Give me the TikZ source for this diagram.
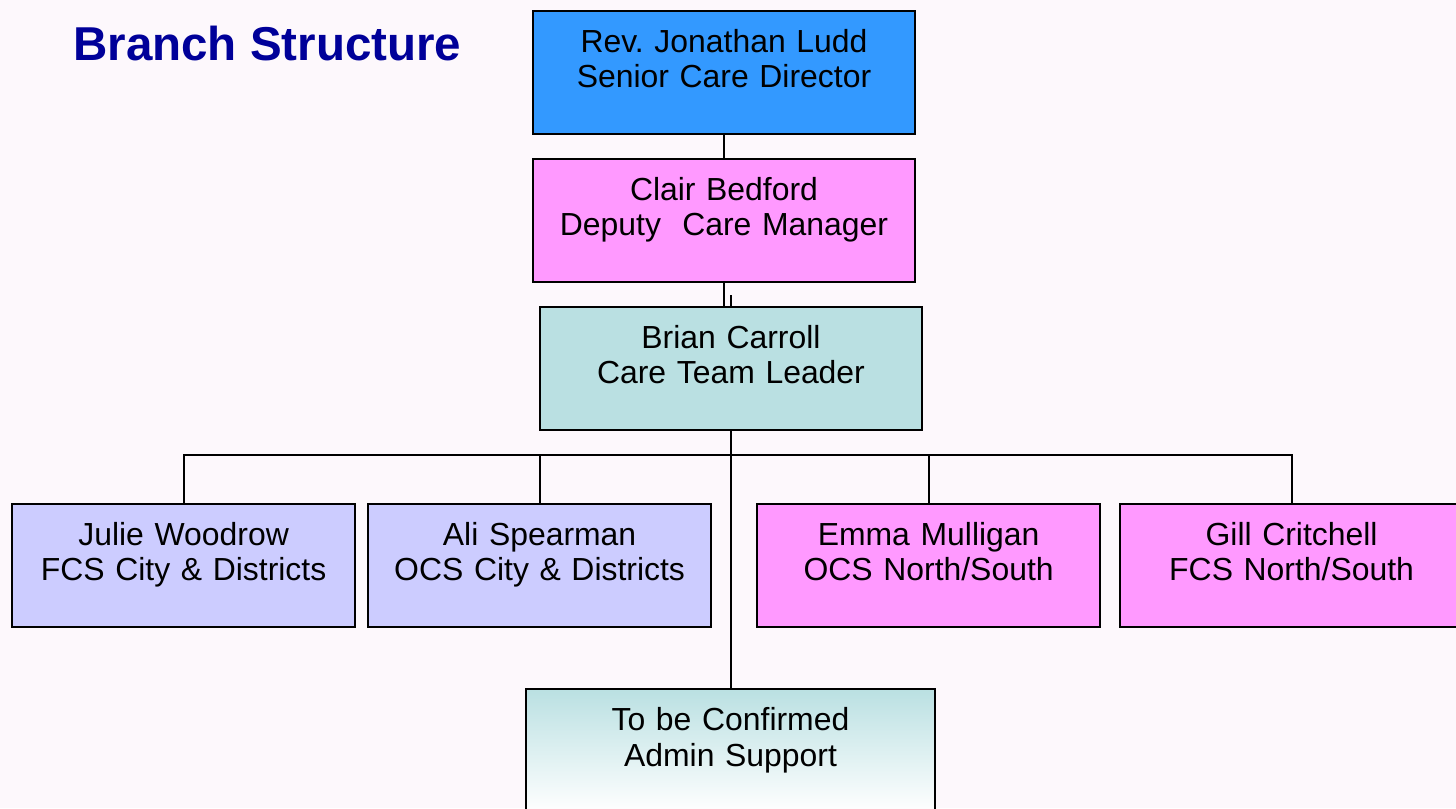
\documentclass[tikz,border=0pt]{standalone}
\usepackage{fontspec}
\setmainfont{Liberation Sans}
\usepackage{tikz}
\usetikzlibrary{positioning}
\usepackage{xcolor}
\definecolor{bgpink}{RGB}{253, 248, 252}
\definecolor{directorblue}{RGB}{51, 153, 255}
\definecolor{managerpink}{RGB}{255, 153, 255}
\definecolor{leaderteal}{RGB}{186, 224, 226}
\definecolor{cityblue}{RGB}{204, 204, 255}
\definecolor{titleblue}{RGB}{0, 0, 153}
\frenchspacing

\tikzset{
    postbox/.style={draw=black, line width=1.4pt, inner sep=0pt, outer sep=0pt, align=center,
        font=\fontsize{22.7pt}{25.6pt}\selectfont,
        text height=1.025cm, text depth=2.05cm},
    widebox/.style={postbox, text width=9.55cm},
    teambox/.style={postbox, text width=8.575cm},
    link/.style={line width=1.4pt}
}

\begin{document}
\begin{tikzpicture}[scale=1]
    \useasboundingbox (0,0) rectangle (36.4,-20.2);
    \fill[bgpink] (0,0) rectangle (36.4,-20.2);
    \node[anchor=base west, inner sep=0pt, text=titleblue,
        font=\fontsize{33.8pt}{40pt}\selectfont\bfseries] (title) at (1.825,-1.5) {Branch Structure};
    % top of the branch
    \node[widebox, fill=directorblue, anchor=north] (ludd) at (18.1,-0.275) {Rev. Jonathan Ludd\\Senior Care Director};
    \node[widebox, fill=managerpink, below=0.625cm of ludd] (clair) {Clair Bedford\\Deputy~ Care Manager};
    \node[widebox, fill=leaderteal, anchor=north] (brian) at (18.275,-7.675) {Brian Carroll\\Care Team Leader};
    % team
    \node[teambox, fill=cityblue, anchor=north] (julie) at (4.59,-12.6) {Julie Woodrow\\FCS City \& Districts};
    \node[teambox, fill=cityblue, right=0.325cm of julie] (ali) {Ali Spearman\\OCS City \& Districts};
    \node[teambox, fill=managerpink, right=1.15cm of ali] (emma) {Emma Mulligan\\OCS North/South};
    \node[teambox, fill=managerpink, right=0.5cm of emma] (gill) {Gill Critchell\\FCS North/South};
    \node[postbox, text width=10.225cm, top color=leaderteal, bottom color=white, anchor=north] (tbc) at (18.2625,-17.225) {To be Confirmed\\Admin Support};
    % connectors
    \coordinate (bus) at (0,-11.375);
    \draw[link] (ludd.south) -- (clair.north);
    \draw[link] (clair.south) -- (clair.south |- brian.north);
    \draw[line width=0.8pt] (brian.north) -- ++(0,0.3);
    \draw[link] (brian.south) -- (brian.south |- tbc.north);
    \draw[link] (julie.north) -- (julie.north |- bus) -- (gill.north |- bus) -- (gill.north);
    \draw[link] (ali.north) -- (ali.north |- bus);
    \draw[link] (emma.north) -- (emma.north |- bus);
\end{tikzpicture}
\end{document}
